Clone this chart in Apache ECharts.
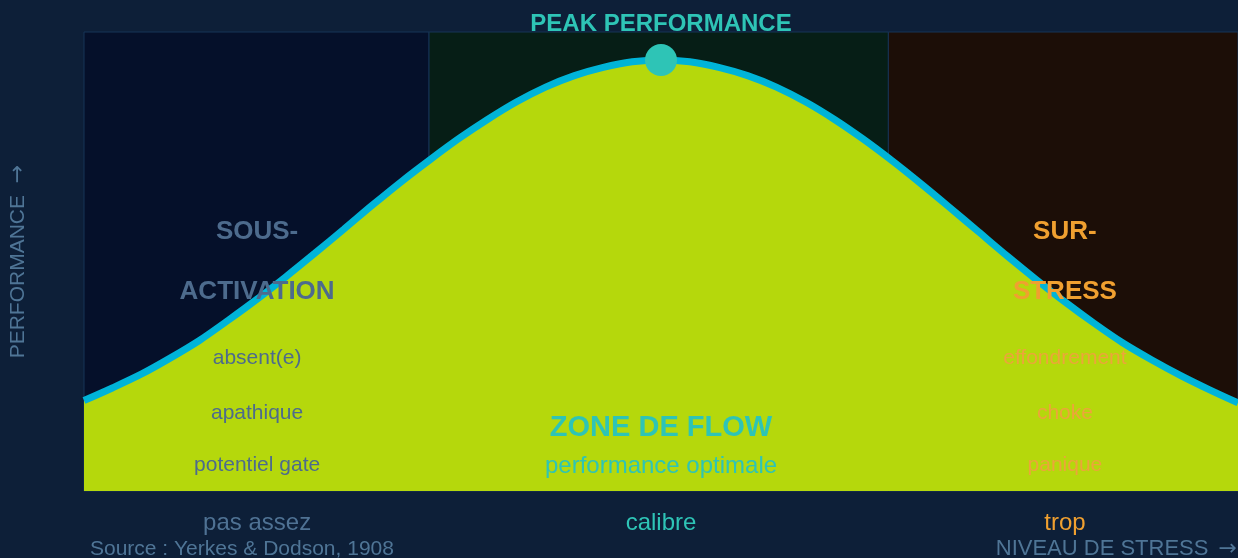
<!DOCTYPE html>
<html>
<head>
<meta charset="utf-8">
<title>Yerkes-Dodson</title>
<script src="https://cdn.jsdelivr.net/npm/echarts@6/dist/echarts.min.js"></script>
<style>
  html, body { margin: 0; padding: 0; background: #0d1f38; }
  #chart { width: 1238px; height: 558px; }
</style>
</head>
<body>
<div id="chart"></div>
<script>
// niveau de stress (0..10) et performance (0..100)
const stressLevels = [0, 0.25, 0.5, 0.75, 1, 1.25, 1.5, 1.75, 2, 2.25, 2.5, 2.75, 3, 3.25, 3.5, 3.75, 4, 4.25, 4.5, 4.75,
    5, 5.25, 5.5, 5.75, 6, 6.25, 6.5, 6.75, 7, 7.25, 7.5, 7.75, 8, 8.25, 8.5, 8.75, 9, 9.25, 9.5, 9.75, 10];
const performance = [19.7, 22.5, 25.5, 29.0, 32.8, 37.2, 41.8, 46.7, 51.8, 57.0, 62.3, 67.4, 72.2, 76.8, 81.0, 84.8, 88.0, 90.5, 92.3, 93.5,
    93.9, 93.5, 92.3, 90.5, 88.0, 84.8, 81.0, 76.7, 72.0, 67.0, 61.8, 56.5, 51.2, 46.1, 41.2, 36.6, 32.3, 28.6, 25.2, 22.1, 19.2];

// zones
const zoneBounds = [0, 2.99, 6.97, 10];
const zoneCenters = [1.5, 5, 8.5];
const zoneAxisLabels = ['pas assez', 'calibre', 'trop'];

const lowTitle = ['SOUS-', 'ACTIVATION'];
const highTitle = ['SUR-', 'STRESS'];
const titleLevels = [56.5, 43.4];
const lowWords = ['absent(e)', 'apathique', 'potentiel gate'];
const highWords = ['effondrement', 'choke', 'panique'];
const wordLevels = [29.0, 17.0, 5.7];
const flowText = ['ZONE DE FLOW', 'performance optimale'];
const flowLevels = [13.8, 5.3];

const peak = [5, 93.9];

const FONT = 'Arial, "Liberation Sans", sans-serif';
const ARROW_FONT = '"DejaVu Sans", sans-serif';
const SLATE = '#4d6b8d';
const ORANGE = '#f0a030';
const TEAL = '#2ec4b6';
const MUTED = '#4f7596';

const chart = echarts.init(document.getElementById('chart'));

// textes des zones, posés en coordonnées de données
const labelData = [];
lowTitle.forEach((t, i) => labelData.push({ value: [zoneCenters[0], titleLevels[i]], name: t, label: { color: SLATE, fontWeight: 'bold', fontSize: 26 } }));
highTitle.forEach((t, i) => labelData.push({ value: [zoneCenters[2], titleLevels[i]], name: t, label: { color: ORANGE, fontWeight: 'bold', fontSize: 26 } }));
lowWords.forEach((t, i) => labelData.push({ value: [zoneCenters[0], wordLevels[i]], name: t, label: { color: SLATE, fontSize: 21 } }));
highWords.forEach((t, i) => labelData.push({ value: [zoneCenters[2], wordLevels[i]], name: t, label: { color: '#eca53a', fontSize: 21 } }));
labelData.push({ value: [zoneCenters[1], flowLevels[0]], name: flowText[0], label: { color: TEAL, fontWeight: 'bold', fontSize: 29 } });
labelData.push({ value: [zoneCenters[1], flowLevels[1]], name: flowText[1], label: { color: TEAL, fontSize: 24 } });

const zoneColors = ['#05102a', '#061e16', '#1c0e07'];

chart.setOption({
    backgroundColor: '#0d1f38',
    animation: false,
    textStyle: { fontFamily: FONT },
    title: [{
        text: 'Source : Yerkes & Dodson, 1908',
        left: 90,
        top: 539,
        padding: 0,
        textStyle: { color: MUTED, fontSize: 21, fontWeight: 'normal', fontFamily: FONT }
    }, {
        text: 'NIVEAU DE STRESS {a|\u2192}',
        right: 1,
        top: 538,
        padding: 0,
        textStyle: {
            color: MUTED, fontSize: 22, fontWeight: 'normal', fontFamily: FONT,
            rich: { a: { color: MUTED, fontSize: 22, fontFamily: ARROW_FONT, padding: [0, 0, 0, 4] } }
        }
    }],
    grid: { left: 84, right: 0, top: 32, bottom: 67, outerBoundsMode: 'none' },
    xAxis: {
        type: 'value',
        min: 0,
        max: 10,
        axisLine: { show: false },
        axisTick: { show: false },
        splitLine: { show: false },
        axisLabel: {
            customValues: zoneCenters,
            margin: 20,
            fontSize: 24,
            fontFamily: FONT,
            formatter: v => {
                const i = zoneCenters.indexOf(v);
                return '{z' + i + '|' + zoneAxisLabels[i] + '}';
            },
            rich: {
                z0: { color: '#4f7294', fontSize: 24, fontFamily: FONT },
                z1: { color: TEAL, fontSize: 24, fontFamily: FONT },
                z2: { color: ORANGE, fontSize: 24, fontFamily: FONT }
            }
        }
    },
    yAxis: {
        type: 'value',
        min: 0,
        max: 100,
        name: 'PERFORMANCE {a|\u2192}',
        nameLocation: 'middle',
        nameRotate: 90,
        nameGap: 55,
        nameTextStyle: {
            color: MUTED, fontSize: 21, fontFamily: FONT,
            rich: { a: { color: MUTED, fontSize: 22, fontFamily: ARROW_FONT, padding: [0, 0, 0, 6] } }
        },
        axisLine: { show: false },
        axisTick: { show: false },
        axisLabel: { show: false },
        splitLine: { show: false }
    },
    series: [{
        type: 'line',
        name: 'performance',
        data: stressLevels.map((x, i) => [x, performance[i]]),
        smooth: 0.3,
        symbol: 'none',
        lineStyle: { color: '#00b4d8', width: 7 },
        areaStyle: { color: '#b5d80c', opacity: 1 },
        markArea: {
            silent: true,
            data: zoneColors.map((c, i) => [
                { xAxis: zoneBounds[i], itemStyle: { color: c, borderColor: '#173456', borderWidth: 1 } },
                { xAxis: zoneBounds[i + 1] }
            ])
        },
        markPoint: {
            symbol: 'circle',
            symbolSize: 32,
            itemStyle: { color: TEAL },
            data: [{ coord: peak, name: 'PEAK PERFORMANCE' }],
            label: {
                show: true,
                position: 'top',
                distance: 8,
                formatter: '{b}',
                color: TEAL,
                fontWeight: 'bold',
                fontSize: 24,
                fontFamily: FONT
            }
        }
    }, {
        type: 'scatter',
        name: 'zones',
        z: 10,
        silent: true,
        symbolSize: 0,
        itemStyle: { opacity: 1 },
        data: labelData,
        label: {
            show: true,
            position: 'inside',
            formatter: '{b}',
            fontFamily: FONT
        }
    }]
});
</script>
</body>
</html>
